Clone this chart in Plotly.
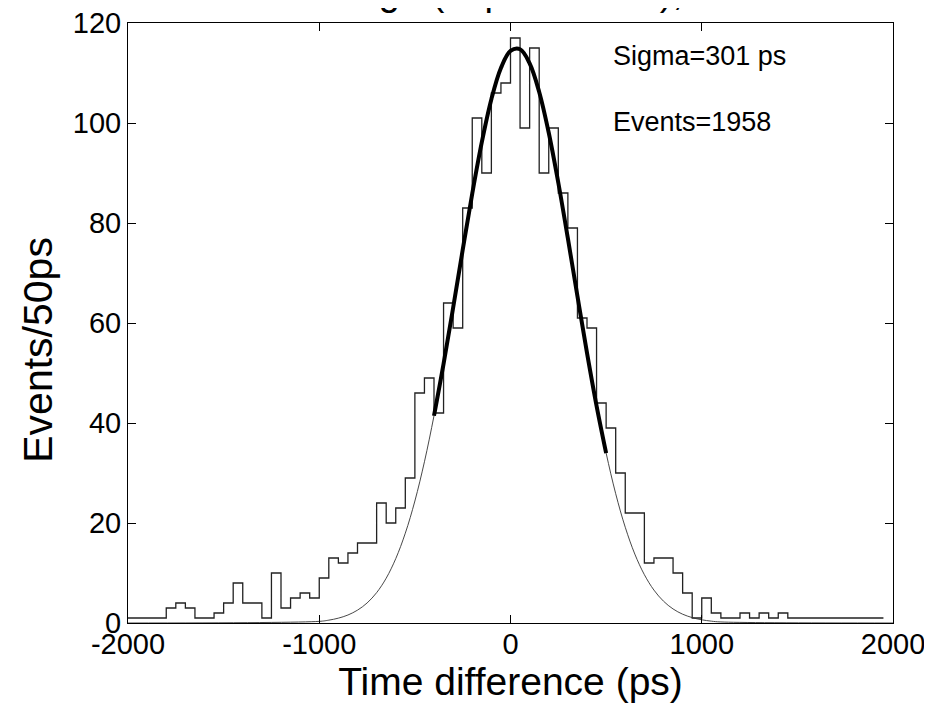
import plotly.graph_objects as go

# Histogram: left bin edges (ps) and counts per 50 ps bin
bin_edges = list(range(-2000, 2000, 50))
counts = [1, 1, 1, 1, 3, 4, 3, 1, 1, 2,
          4, 8, 4, 4, 1, 10, 3, 5, 6, 5,
          9, 13, 12, 14, 16, 16, 24, 20, 23, 29,
          46, 49, 42, 64, 59, 83, 101, 90, 106, 108,
          117, 99, 115, 90, 99, 86, 79, 61, 59, 44,
          39, 30, 22, 22, 12, 13, 13, 10, 6, 1,
          5, 2, 1, 1, 2, 1, 2, 1, 2, 1,
          1, 1, 1, 1, 1, 1, 1, 1, 1, 1]

# Thin Gaussian curve
gauss_x = [-2000, -1000, -950, -900, -850, -800, -750, -700, -650, -600, -550,
           -500, -450, -400, -350, -300, -250, -200, -150, -100, -50,
           0, 50, 100, 150, 200, 250, 300, 350, 400, 450,
           500, 550, 600, 650, 700, 750, 800, 850, 900, 950,
           1000, 1050, 1100, 2000]
gauss_y = [0.0, 0.33, 0.57, 0.97, 1.60, 2.57, 4.00, 6.07, 8.96, 12.87, 17.96,
           24.40, 32.25, 41.45, 51.83, 63.05, 74.61, 85.88, 96.17, 104.77, 111.01,
           114.43, 114.75, 111.93, 106.21, 98.05, 88.05, 76.91, 65.36, 54.03, 43.44,
           33.99, 25.86, 19.15, 13.79, 9.66, 6.58, 4.36, 2.81, 1.76, 1.08,
           0.64, 0.37, 0.21, 0.0]

# Thick fitted region
fit_x = [-400, -350, -300, -250, -200, -150, -100, -50, 0, 50, 100,
         150, 200, 250, 300, 350, 400, 450, 500]
fit_y = [41.45, 51.83, 63.05, 74.61, 85.88, 96.17, 104.77, 111.01, 114.43, 114.75, 111.93,
         106.21, 98.05, 88.05, 76.91, 65.36, 54.03, 43.44, 33.99]

x_ticks = [-2000, -1000, 0, 1000, 2000]
y_ticks = [0, 20, 40, 60, 80, 100, 120]

FONT = "Liberation Sans, Arial, Helvetica, sans-serif"

fig = go.Figure()
fig.add_trace(go.Scatter(x=bin_edges, y=counts, mode="lines", line_shape="hv",
                         line=dict(color="#222222", width=1.3), hoverinfo="skip"))
fig.add_trace(go.Scatter(x=gauss_x, y=gauss_y, mode="lines", line_shape="spline",
                         line=dict(color="#333333", width=0.9), hoverinfo="skip"))
fig.add_trace(go.Scatter(x=fit_x, y=fit_y, mode="lines", line_shape="spline",
                         line=dict(color="black", width=4), hoverinfo="skip"))

fig.update_layout(
    template="none",
    width=924, height=695,
    margin=dict(l=120, r=39, t=14.5, b=80, autoexpand=False),
    paper_bgcolor="white", plot_bgcolor="white",
    showlegend=False,
    font=dict(family=FONT, color="black", size=29),
    xaxis=dict(range=[-2000, 2000], tickvals=x_ticks, ticktext=[str(v) for v in x_ticks],
               ticks="inside", ticklen=8, tickcolor="black", tickwidth=1,
               showline=True, linecolor="black", linewidth=1, mirror="allticks",
               showgrid=False, zeroline=False, automargin=False,
               ticklabeloverflow="allow", ticklabelstandoff=-5,
               title=dict(text="Time difference (ps)", font=dict(size=39), standoff=2),
               tickfont=dict(size=29)),
    yaxis=dict(range=[0, 120], tickvals=y_ticks,
               ticks="inside", ticklen=8, tickcolor="black", tickwidth=1,
               showline=True, linecolor="black", linewidth=1, mirror="allticks",
               showgrid=False, zeroline=False, automargin=False,
               ticklabeloverflow="allow",
               tickfont=dict(size=29)),
    annotations=[
        dict(text="Events/50ps", x=-0.118, y=0.455, xref="paper", yref="paper",
             textangle=-90, xanchor="center", yanchor="middle", showarrow=False,
             font=dict(size=41)),
        dict(text="Sigma=301 ps", x=525, y=113.5, xref="x", yref="y",
             xanchor="left", yanchor="middle", showarrow=False, font=dict(size=27)),
        dict(text="Events=1958", x=525, y=100.2, xref="x", yref="y",
             xanchor="left", yanchor="middle", showarrow=False, font=dict(size=27)),
        dict(text="Gauge (Top - Bottom),", x=0.48, y=1, xref="paper", yref="paper",
             xanchor="center", yanchor="bottom", yshift=8, showarrow=False,
             font=dict(size=38)),
    ],
)

fig.write_html("out.html")
